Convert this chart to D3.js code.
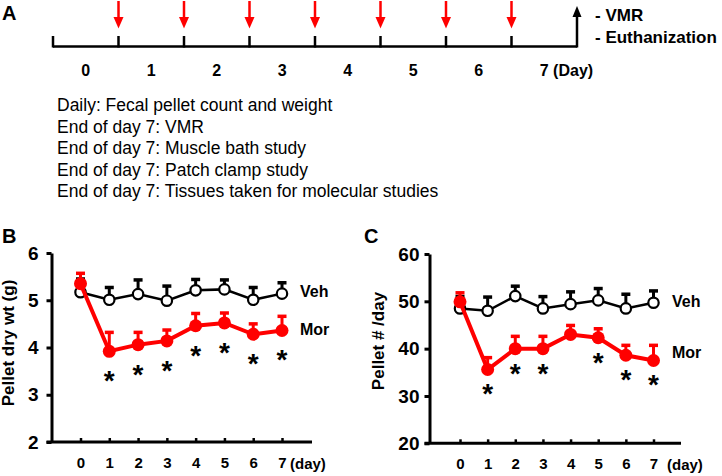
<!DOCTYPE html>
<html><head><meta charset="utf-8">
<script src="https://cdn.jsdelivr.net/npm/d3@7"></script>
<style>
html,body{margin:0;padding:0;background:#fff;}
svg{display:block;font-family:"Liberation Sans",Arial,sans-serif;}
</style></head>
<body>
<svg id="chart" width="722" height="476"></svg>
<script>
// ---------- data ----------
const days = [0, 1, 2, 3, 4, 5, 6, 7];
const timelineLabels = ["0", "1", "2", "3", "4", "5", "6", "7"];
const injectionDays = [1, 2, 3, 4, 5, 6, 7];
const endpointLabels = ["- VMR", "- Euthanization"];
const protocolLines = [
  "Daily: Fecal pellet count and weight",
  "End of day 7: VMR",
  "End of day 7: Muscle bath study",
  "End of day 7: Patch clamp study",
  "End of day 7: Tissues taken for molecular studies"
];
// Panel B: pellet dry weight (g), mean and upper SEM
const wtVeh    = [5.17, 5.01, 5.13, 4.99, 5.21, 5.23, 5.01, 5.14];
const wtVehSem = [0.28, 0.26, 0.30, 0.31, 0.23, 0.20, 0.26, 0.23];
const wtMor    = [5.35, 3.92, 4.06, 4.14, 4.46, 4.52, 4.28, 4.36];
const wtMorSem = [0.22, 0.40, 0.26, 0.23, 0.26, 0.21, 0.22, 0.30];
const wtSig    = [false, true, true, true, true, true, true, true];
const wtTicks  = [2, 3, 4, 5, 6];
// Panel C: pellet number per day
const pelVeh    = [48.5, 48.0, 51.1, 48.5, 49.4, 50.2, 48.5, 49.7];
const pelVehSem = [2.5, 2.9, 2.1, 2.5, 2.6, 2.5, 3.0, 2.5];
const pelMor    = [49.9, 35.6, 40.0, 40.0, 43.0, 42.3, 38.6, 37.5];
const pelMorSem = [1.9, 2.5, 2.6, 2.6, 1.9, 1.9, 2.1, 3.2];
const pelSig    = [false, true, true, true, false, true, true, true];
const pelTicks  = [20, 30, 40, 50, 60];

// ---------- drawing ----------
const svg = d3.select("#chart");
const RED = "#ff0000";

svg.append("rect").attr("width", 722).attr("height", 476).attr("fill", "#fff");

// Panel letters
svg.append("text").attr("x", 2).attr("y", 20).text("A")
  .attr("font-size", 20).attr("font-weight", "bold");
svg.append("text").attr("x", 2).attr("y", 243).text("B")
  .attr("font-size", 20).attr("font-weight", "bold");
svg.append("text").attr("x", 364).attr("y", 243).text("C")
  .attr("font-size", 20).attr("font-weight", "bold");

// ----- Panel A: timeline -----
const xA = d3.scaleLinear().domain([0, 8]).range([53, 577]);
const lineY = 46.5;
const gA = svg.append("g");
gA.append("line").attr("x1", xA(0)).attr("x2", xA(8)).attr("y1", lineY).attr("y2", lineY)
  .attr("stroke", "#000").attr("stroke-width", 2.5);
gA.selectAll("line.tk").data(d3.range(0, 8)).join("line").attr("class", "tk")
  .attr("x1", d => xA(d)).attr("x2", d => xA(d))
  .attr("y1", 36).attr("y2", lineY + 1)
  .attr("stroke", "#000").attr("stroke-width", 2.5);
// final black arrow (day 7 end)
gA.append("line").attr("x1", xA(8)).attr("x2", xA(8)).attr("y1", lineY + 1).attr("y2", 15)
  .attr("stroke", "#000").attr("stroke-width", 2.5);
gA.append("path")
  .attr("d", `M${xA(8) - 4.5},17 L${xA(8)},6 L${xA(8) + 4.5},17 Z`).attr("fill", "#000");
// red injection arrows
const ra = gA.selectAll("g.ra").data(injectionDays).join("g").attr("class", "ra");
ra.append("line").attr("x1", d => xA(d)).attr("x2", d => xA(d)).attr("y1", 1).attr("y2", 19)
  .attr("stroke", RED).attr("stroke-width", 2.5);
ra.append("path").attr("d", d => `M${xA(d) - 5},17 L${xA(d)},28.5 L${xA(d) + 5},17 Z`).attr("fill", RED);
// day labels
gA.selectAll("text.dl").data(days).join("text").attr("class", "dl")
  .attr("x", d => xA(d + 0.5) + (d === 7 ? -4.5 : 0))
  .attr("y", 76)
  .attr("text-anchor", d => d === 7 ? "start" : "middle")
  .attr("font-size", 16).attr("font-weight", "bold")
  .text(d => timelineLabels[d] + (d === 7 ? " (Day)" : ""));
// endpoint labels
gA.selectAll("text.ep").data(endpointLabels).join("text").attr("class", "ep")
  .attr("x", 595).attr("y", (d, i) => 21 + i * 21.5)
  .attr("font-size", 17).attr("font-weight", "bold").text(d => d);
// protocol lines
svg.selectAll("text.pl").data(protocolLines).join("text").attr("class", "pl")
  .attr("x", 57).attr("y", (d, i) => 111 + i * 21.6)
  .attr("font-size", 17.5).text(d => d);

// ----- Panels B and C -----
function panel(cfg) {
  const g = svg.append("g");
  const x = d3.scaleLinear().domain([0, 7]).range(cfg.xRange);
  const y = d3.scaleLinear().domain(cfg.yDomain).range(cfg.yRange);
  const axisY = cfg.axisX, baseY = y(cfg.yDomain[0]);

  // y axis
  const ya = g.append("g").attr("transform", `translate(${axisY},0)`)
    .call(d3.axisLeft(y).tickValues(cfg.ticks).tickFormat(d3.format("d"))
      .tickSizeInner(5).tickSizeOuter(0).tickPadding(cfg.yPad));
  ya.select(".domain").attr("stroke-width", 3);
  ya.selectAll(".tick line").attr("stroke-width", 3);
  ya.selectAll(".tick text").attr("font-size", 19).attr("font-weight", "bold")
    .attr("font-family", "Liberation Sans, Arial, sans-serif");

  // x axis
  g.append("line").attr("x1", axisY - 5).attr("x2", cfg.xEnd).attr("y1", baseY).attr("y2", baseY)
    .attr("stroke", "#000").attr("stroke-width", 3);
  const xa = g.append("g").attr("transform", `translate(0,${baseY})`)
    .call(d3.axisBottom(x).tickValues(days).tickSizeInner(-4).tickSizeOuter(0).tickPadding(15)
      .tickFormat(d => timelineLabels[d]));
  xa.select(".domain").remove();
  xa.selectAll(".tick line").attr("stroke-width", 2.5);
  xa.selectAll(".tick text").attr("font-size", 15).attr("font-weight", "bold")
    .attr("font-family", "Liberation Sans, Arial, sans-serif");
  g.append("text").attr("x", cfg.dayX).attr("y", baseY + 27).attr("font-size", 15)
    .attr("font-weight", "bold").text("(day)");

  // y title
  g.append("text").attr("transform", `translate(${cfg.titleX},${cfg.titleY}) rotate(-90)`)
    .attr("text-anchor", "middle").attr("font-size", 17).attr("font-weight", "bold").text(cfg.title);

  function series(vals, sems, color, lw, filled) {
    const s = g.append("g");
    s.selectAll("line.eb").data(days).join("line")
      .attr("x1", d => x(d)).attr("x2", d => x(d))
      .attr("y1", d => y(vals[d])).attr("y2", d => y(vals[d] + sems[d]))
      .attr("stroke", color).attr("stroke-width", 3);
    s.selectAll("line.cap").data(days).join("line")
      .attr("x1", d => x(d) - 4.5).attr("x2", d => x(d) + 4.5)
      .attr("y1", d => y(vals[d] + sems[d])).attr("y2", d => y(vals[d] + sems[d]))
      .attr("stroke", color).attr("stroke-width", 3.5);
    s.append("path").datum(days)
      .attr("d", d3.line().x(d => x(d)).y(d => y(vals[d])))
      .attr("fill", "none").attr("stroke", color).attr("stroke-width", lw);
    s.selectAll("circle").data(days).join("circle")
      .attr("cx", d => x(d)).attr("cy", d => y(vals[d]))
      .attr("r", filled ? 6.5 : 5.2)
      .attr("fill", filled ? color : "#fff")
      .attr("stroke", color).attr("stroke-width", filled ? 0 : 2.2);
  }
  series(cfg.veh, cfg.vehSem, "#000", 2.5, false);
  series(cfg.mor, cfg.morSem, RED, 4, true);

  // significance stars
  g.selectAll("text.star").data(days.filter(d => cfg.sig[d])).join("text")
    .attr("x", d => x(d)).attr("y", d => y(cfg.mor[d]) + cfg.starOff + 15)
    .attr("text-anchor", "middle").attr("font-size", 28).attr("font-weight", "bold").text("*");

  // series labels
  g.append("text").attr("x", cfg.labX).attr("y", cfg.vehLabY + 6).attr("font-size", 16)
    .attr("font-weight", "bold").text("Veh");
  g.append("text").attr("x", cfg.labX).attr("y", cfg.morLabY + 6).attr("font-size", 16)
    .attr("font-weight", "bold").text("Mor");
}

panel({
  xRange: [80.5, 282], yDomain: [2, 6], yRange: [442, 253], axisX: 51.5, xEnd: 312, yPad: 8,
  ticks: wtTicks, dayX: 290, title: "Pellet dry wt (g)", titleX: 14, titleY: 343,
  veh: wtVeh, vehSem: wtVehSem, mor: wtMor, morSem: wtMorSem, sig: wtSig, starOff: 24,
  labX: 300, vehLabY: 291, morLabY: 329
});
panel({
  xRange: [460, 653.5], yDomain: [20, 60], yRange: [443.3, 254], axisX: 429.5, xEnd: 681, yPad: 5,
  ticks: pelTicks, dayX: 667, title: "Pellet # /day", titleX: 384, titleY: 341,
  veh: pelVeh, vehSem: pelVehSem, mor: pelMor, morSem: pelMorSem, sig: pelSig, starOff: 19,
  labX: 672, vehLabY: 301, morLabY: 352
});
</script>
</body></html>
